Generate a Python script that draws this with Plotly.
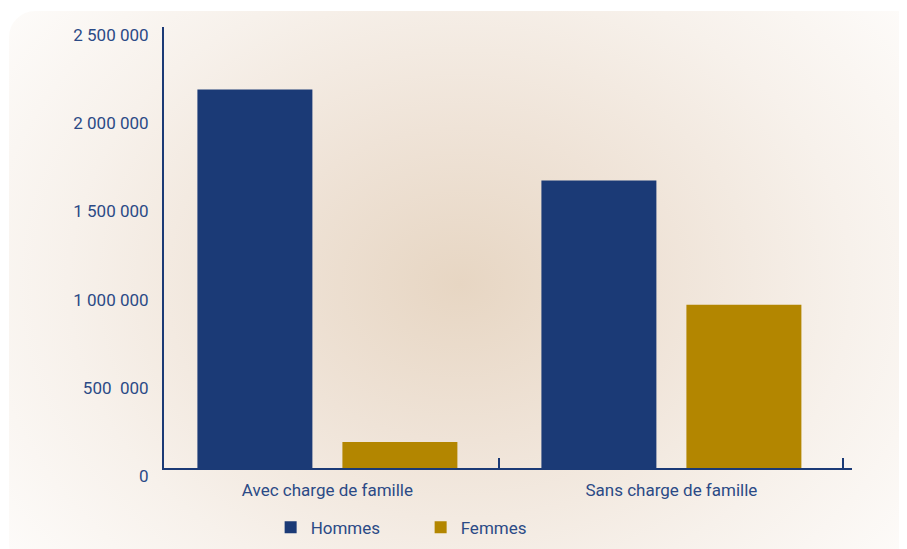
import base64
import plotly.graph_objects as go

categories = ["Avec charge de famille", "Sans charge de famille"]
hommes = [2145000, 1630000]
femmes = [148000, 925000]
tick_vals = [0, 500000, 1000000, 1500000, 2000000, 2500000]
tick_text = ["0", "500  000", "1 000 000", "1 500 000", "2 000 000", "2 500 000"]

NAVY = "#1b3a76"
GOLD = "#b38600"
TEXT = "#2b4a86"
W, H = 907, 549
OFF = 8  # page body margin
ML, MR, MT, MB = 164 - OFF, 55 + OFF, 27 - OFF, 80 + OFF

svg = f'''<svg xmlns="http://www.w3.org/2000/svg" width="{W}" height="{H}" viewBox="0 0 {W} {H}" preserveAspectRatio="none">
<defs><radialGradient id="g" gradientUnits="userSpaceOnUse" cx="{460-OFF}" cy="{285-OFF}" r="560" gradientTransform="translate({460-OFF} {285-OFF}) scale(1 0.8) translate({OFF-460} {OFF-285})">
<stop offset="0" stop-color="#e7d6c3"/><stop offset="0.35" stop-color="#efe3d7"/><stop offset="0.7" stop-color="#f7f1eb"/><stop offset="1" stop-color="#fdfbf9"/></radialGradient></defs>
<rect x="0" y="0" width="{W}" height="{H}" fill="#ffffff"/>
<rect x="{9-OFF}" y="{11-OFF}" width="925" height="560" rx="26" ry="26" fill="url(#g)"/>
</svg>'''
src = "data:image/svg+xml;base64," + base64.b64encode(svg.encode()).decode()

pw, ph = W - ML - MR, H - MT - MB

fig = go.Figure()
fig.add_trace(go.Bar(name="Hommes", x=categories, y=hommes, marker_color=NAVY, marker_line_width=0))
fig.add_trace(go.Bar(name="Femmes", x=categories, y=femmes, marker_color=GOLD, marker_line_width=0))

fig.update_layout(
    width=W, height=H,
    margin=dict(l=ML, r=MR, t=MT, b=MB, pad=0),
    paper_bgcolor="white", plot_bgcolor="rgba(0,0,0,0)",
    barmode="group", bargap=0.157, bargroupgap=0.207,
    font=dict(family="Roboto, Arial, sans-serif", color=TEXT, size=17),
    showlegend=True,
    legend=dict(orientation="h", x=0.155, y=-0.092, xanchor="left", yanchor="top",
                font=dict(size=17, color=TEXT), bgcolor="rgba(0,0,0,0)",
                itemwidth=30, tracegroupgap=0, entrywidth=105),
    images=[dict(source=src, xref="paper", yref="paper",
                 x=-ML / pw, y=1 + MT / ph, sizex=W / pw, sizey=H / ph,
                 xanchor="left", yanchor="top", sizing="stretch", layer="below")],
)
fig.update_xaxes(
    range=[-0.475, 1.525], showgrid=False, showline=True, linecolor=NAVY, linewidth=2,
    ticks="inside", tickson="boundaries", ticklen=10, tickwidth=2, tickcolor=NAVY,
    tickfont=dict(size=17, color=TEXT), zeroline=False, ticklabelstandoff=6,
)
fig.update_yaxes(
    range=[0, 2500000], tickvals=tick_vals, ticktext=tick_text, showgrid=False,
    showline=True, linecolor=NAVY, linewidth=2, ticks="", zeroline=False,
    tickfont=dict(size=17, color=TEXT), ticklabelshift=8, ticklabelstandoff=10,
)

fig.write_html("out.html")
